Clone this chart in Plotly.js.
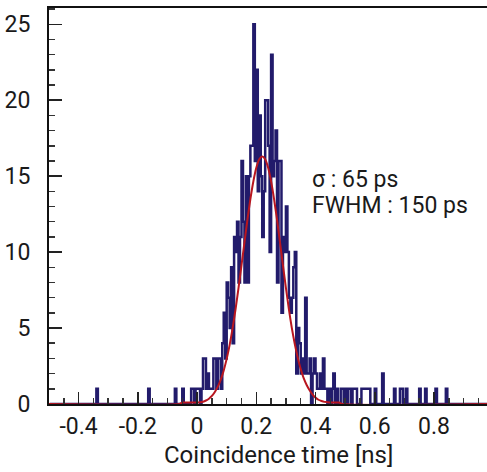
<!DOCTYPE html>
<html>
<head>
<meta charset="utf-8">
<script src="https://cdn.plot.ly/plotly-3.0.1.min.js"></script>
<style>html,body{margin:0;padding:0;background:#fff;}#chart{width:487px;height:472px;}</style>
</head>
<body>
<div id="chart"></div>
<script>
// Histogram: first bin left edge and bin width (ns)
var binStart = -0.5;
var binWidth = 0.005;
// Counts per bin, 20 bins (0.1 ns) per row, from -0.5 to 1.0 ns
var counts = [
  0,0,0,0,0,0,0,0,0,0, 0,0,0,0,0,0,0,0,0,0,
  0,0,0,0,0,0,0,0,0,0, 0,0,1,0,0,0,0,0,0,0,
  0,0,0,0,0,0,0,0,0,0, 0,0,0,0,0,0,0,0,0,0,
  0,0,0,0,0,0,0,1,0,0, 0,0,0,0,0,0,0,0,0,0,
  0,0,0,0,0,1,0,0,0,0, 1,0,0,0,0,0,1,1,0,1,
  1,1,0,1,3,3,1,2,1,1, 1,3,3,1,3,3,1,4,6,3,
  8,7,5,9,4,11,10,12,8,11, 16,12,8,15,8,15,17,17,25,16,
  22,14,19,15,11,14,20,20,17,10, 23,15,16,18,8,16,16,6,11,10,
  13,10,7,6,7,9,10,2,5,4, 2,3,2,7,2,2,3,0,2,3,
  2,1,1,2,1,3,1,1,0,1, 0,1,2,0,1,0,0,1,1,0,
  1,0,1,1,0,1,1,1,0,0, 0,1,1,1,1,1,1,0,0,0,
  1,0,0,0,0,2,0,0,0,0, 0,0,0,1,0,0,0,1,1,0,
  0,1,0,0,0,0,0,0,0,0, 1,0,0,0,1,0,0,0,0,0,
  0,1,0,0,0,0,0,0,1,0, 0,0,0,0,0,0,0,0,0,0,
  0,0,0,0,0,0,0,0,0,0, 0,0,0,0,0,0,0,0,0,0
];
// Fitted curve
var fitX = [-0.5,-0.06,-0.05,-0.04,-0.03,-0.02,-0.01,0.00,0.01,0.02,0.03,0.04,0.05,0.06,0.07,0.08,0.09,
  0.10,0.11,0.12,0.13,0.14,0.15,0.16,0.17,0.18,0.19,0.20,0.21,0.22,0.23,0.24,0.25,0.26,0.27,0.28,0.29,
  0.30,0.31,0.32,0.33,0.34,0.35,0.36,0.37,0.38,0.39,0.40,0.41,0.42,0.43,0.44,0.45,0.46,0.47,0.48,0.49,0.98];
var fitY = [0,0,0.1,0.1,0.1,0.1,0.1,0.1,0.12,0.15,0.23,0.35,0.53,0.79,1.14,1.60,2.21,
  2.97,3.89,4.99,6.25,7.65,9.13,10.64,12.13,13.49,14.65,15.55,16.11,16.3,16.11,15.55,14.65,13.49,12.13,10.64,9.13,
  7.65,6.25,4.99,3.95,3.05,2.3,1.7,1.25,0.9,0.62,0.42,0.28,0.2,0.14,0.12,0.1,0.1,0.1,0.1,0,0];
var xTickVals = [-0.4,-0.2,0,0.2,0.4,0.6,0.8];
var xTickText = ['-0.4','-0.2','0','0.2','0.4','0.6','0.8'];
var yTickVals = [0,5,10,15,20,25];
var yTickText = ['0','5','10','15','20','25'];
var statLines = ['σ : 65 ps', 'FWHM : 150 ps'];
var xTitle = 'Coincidence time [ns]';

var centers = counts.map(function(c, i){ return binStart + binWidth * (i + 0.5); });
var FONT = 'Roboto, sans-serif';

var hist = {
  x: centers, y: counts, type: 'scatter', mode: 'lines',
  line: {shape: 'hvh', color: '#221b6b', width: 2.5},
  hoverinfo: 'skip', showlegend: false
};
var fit = {
  x: fitX, y: fitY, type: 'scatter', mode: 'lines',
  line: {shape: 'spline', smoothing: 0.6, color: '#b8161f', width: 2},
  hoverinfo: 'skip', showlegend: false
};

var layout = {
  width: 487, height: 472,
  margin: {l: 49, r: 0, t: 8, b: 68},
  paper_bgcolor: '#fff', plot_bgcolor: '#fff',
  font: {family: FONT, color: '#1a1a1a'},
  xaxis: {
    range: [-0.5, 0.979],
    tickmode: 'array', tickvals: xTickVals, ticktext: xTickText,
    ticks: 'inside', ticklen: 12, tickwidth: 1.5, tickcolor: '#222',
    minor: {ticks: 'inside', ticklen: 6, tickwidth: 1.5, tickcolor: '#333', tickmode: 'linear', tick0: 0, dtick: 0.05, showgrid: false},
    showline: true, linecolor: '#111', linewidth: 2, mirror: true,
    showgrid: false, zeroline: false,
    tickfont: {family: FONT, size: 23, color: '#1a1a1a'},
    ticklabelstandoff: 0
  },
  yaxis: {
    range: [0, 26.07],
    tickmode: 'array', tickvals: yTickVals, ticktext: yTickText,
    ticks: 'inside', ticklen: 13, tickwidth: 1.5, tickcolor: '#222',
    minor: {ticks: 'inside', ticklen: 6, tickwidth: 1.5, tickcolor: '#333', tickmode: 'linear', tick0: 0, dtick: 1, showgrid: false},
    showline: true, linecolor: '#111', linewidth: 2,
    showgrid: false, zeroline: false,
    tickfont: {family: FONT, size: 23, color: '#1a1a1a'},
    ticklabelstandoff: 12
  },
  annotations: [
    {xref: 'x', yref: 'y', x: 0.382, y: 14.8, xanchor: 'left', yanchor: 'middle', showarrow: false,
     text: statLines[0], font: {family: FONT, size: 23, color: '#1a1a1a'}},
    {xref: 'x', yref: 'y', x: 0.382, y: 13.1, xanchor: 'left', yanchor: 'middle', showarrow: false,
     text: statLines[1], font: {family: FONT, size: 23, color: '#1a1a1a'}},
    {xref: 'paper', yref: 'paper', x: 0.525, y: -0.128, xanchor: 'center', yanchor: 'middle', showarrow: false,
     text: xTitle, font: {family: FONT, size: 24, color: '#1a1a1a'}}
  ]
};

Plotly.newPlot('chart', [hist, fit], layout, {displayModeBar: false, staticPlot: true});
</script>
</body>
</html>
